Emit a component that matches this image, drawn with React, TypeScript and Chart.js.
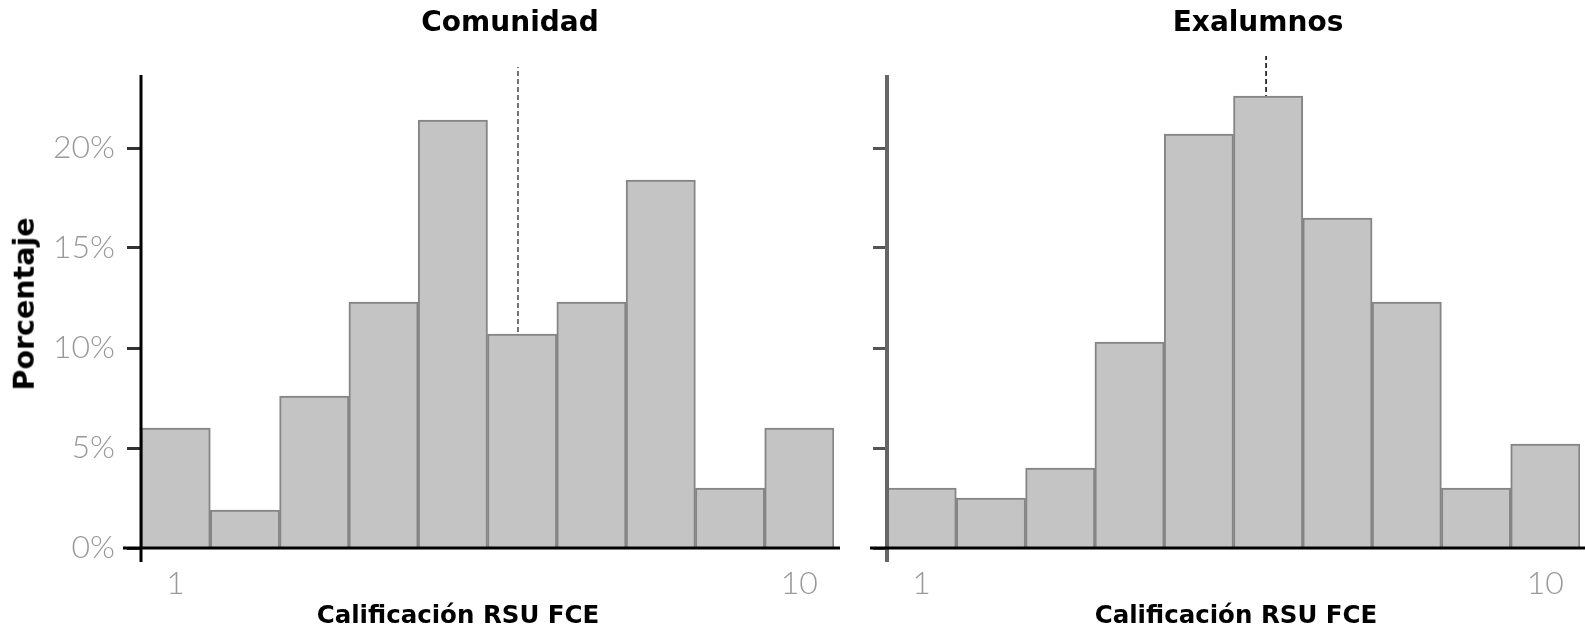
import { useEffect, useRef } from "react";
import { Chart, registerables } from "chart.js";

Chart.register(...registerables);

// histogram bins (score 1..10) and share of answers per bin, in %
const bins = [1, 2, 3, 4, 5, 6, 7, 8, 9, 10];
const comunidadPct = [6.0, 1.9, 7.6, 12.3, 21.4, 10.7, 12.3, 18.4, 3.0, 6.0];
const exalumnosPct = [3.0, 2.5, 4.0, 10.3, 20.7, 22.6, 16.5, 12.3, 3.0, 5.2];

// mean marker (dashed line) x position and the height it reaches
const comunidadMean = 5.94;
const comunidadMeanTop = 24.05;
const exalumnosMean = 5.97;
const exalumnosMeanTop = 24.6;

const yTicks = [0, 5, 10, 15, 20];
const xTicks = [1, 10];

const TICK_FONT = { family: "Lato, 'Open Sans', sans-serif", size: 32, weight: 300 };
const BOLD = "'DejaVu Sans', sans-serif";

const axisLines = {
  id: "axisLines",
  afterDatasetsDraw(chart: any, _args: any, opts: any) {
    const { ctx, chartArea: a } = chart;
    ctx.save();
    ctx.strokeStyle = opts.yColor;
    ctx.lineWidth = opts.yWidth;
    ctx.beginPath();
    ctx.moveTo(a.left, a.top);
    ctx.lineTo(a.left, a.bottom + 14);
    ctx.stroke();
    ctx.strokeStyle = "#000";
    ctx.lineWidth = 3;
    ctx.beginPath();
    ctx.moveTo(a.left - opts.extLeft, a.bottom);
    ctx.lineTo(a.right + opts.extRight, a.bottom);
    ctx.stroke();
    ctx.restore();
  },
};

interface PanelProps {
  values: number[];
  mean: number;
  meanTop: number;
  meanColor: string;
  width: number;
  yAxisWidth: number;
  padRight: number;
  showYLabels: boolean;
  yColor: string;
  yWidth: number;
  tickColor: string;
  extLeft: number;
  extRight: number;
}

const HistPanel = (p: PanelProps) => {
  const canvasRef = useRef<HTMLCanvasElement>(null);

  useEffect(() => {
    if (!canvasRef.current) return;
    const chart = new Chart(canvasRef.current, {
      type: "bar",
      data: {
        datasets: [
          {
            type: "bar",
            data: bins.map((b, i) => ({ x: b, y: p.values[i] })),
            backgroundColor: "#c4c4c4",
            borderColor: "#858585",
            borderWidth: 2,
            barPercentage: 1,
            categoryPercentage: 1,
            order: 0,
          },
          {
            type: "line",
            data: [
              { x: p.mean, y: 0 },
              { x: p.mean, y: p.meanTop },
            ],
            borderColor: p.meanColor,
            borderWidth: 1.5,
            borderDash: [5, 3],
            pointRadius: 0,
            clip: false,
            order: 1,
          } as any,
        ],
      },
      options: {
        responsive: false,
        animation: false,
        layout: { padding: { top: 75, right: p.padRight, left: 0, bottom: 0 } },
        plugins: {
          legend: { display: false },
          tooltip: { enabled: false },
          axisLines: {
            yColor: p.yColor,
            yWidth: p.yWidth,
            extLeft: p.extLeft,
            extRight: p.extRight,
          },
        } as any,
        scales: {
          x: {
            type: "linear",
            min: 0.5,
            max: 10.5,
            offset: false,
            afterBuildTicks: (s: any) => {
              s.ticks = xTicks.map((v) => ({ value: v }));
            },
            grid: { display: false, drawTicks: false, offset: false },
            border: { display: false },
            ticks: {
              color: "#999",
              font: TICK_FONT,
              padding: 16,
              maxRotation: 0,
              autoSkip: false,
            },
            afterFit: (s: any) => {
              s.height = 82;
            },
          },
          y: {
            min: 0,
            max: 23.65,
            afterBuildTicks: (s: any) => {
              s.ticks = yTicks.map((v) => ({ value: v }));
            },
            grid: {
              drawOnChartArea: false,
              drawTicks: true,
              tickLength: 14,
              tickColor: p.tickColor,
              tickWidth: 3,
            },
            border: { display: false },
            ticks: {
              display: p.showYLabels,
              color: "#999",
              font: TICK_FONT,
              padding: 12,
              callback: (v: any) => `${v}%`,
            },
            afterFit: (s: any) => {
              s.width = p.yAxisWidth;
            },
          },
        },
      },
      plugins: [axisLines],
    });
    return () => chart.destroy();
  }, []);

  return <canvas ref={canvasRef} width={p.width} height={630} />;
};

const textStyle = (x: number, y: number, size: number, rotate = 0): React.CSSProperties => ({
  position: "absolute",
  left: x,
  top: y,
  transform: `translate(-50%, -50%) rotate(${rotate}deg)`,
  fontFamily: BOLD,
  fontWeight: "bold",
  fontSize: size,
  lineHeight: 1,
  whiteSpace: "nowrap",
  color: "#000",
});

export default function App() {
  return (
    <div
      style={{
        position: "absolute",
        left: 0,
        top: 0,
        width: 1585,
        height: 630,
        background: "#fff",
        overflow: "hidden",
      }}
    >
      <div style={{ position: "absolute", left: 0, top: 0 }}>
        <HistPanel
          values={comunidadPct}
          mean={comunidadMean}
          meanTop={comunidadMeanTop}
          meanColor="#444"
          width={862}
          yAxisWidth={141}
          padRight={28}
          showYLabels={true}
          yColor="#000"
          yWidth={3}
          tickColor="#333"
          extLeft={18}
          extRight={6}
        />
      </div>
      <div style={{ position: "absolute", left: 862, top: 0 }}>
        <HistPanel
          values={exalumnosPct}
          mean={exalumnosMean}
          meanTop={exalumnosMeanTop}
          meanColor="#000"
          width={723}
          yAxisWidth={25}
          padRight={5}
          showYLabels={false}
          yColor="#666"
          yWidth={4}
          tickColor="#555"
          extLeft={17}
          extRight={5}
        />
      </div>
      <div style={textStyle(510, 22, 28)}>Comunidad</div>
      <div style={textStyle(1258, 22, 28)}>Exalumnos</div>
      <div style={textStyle(25, 304, 28.5, -90)}>Porcentaje</div>
      <div style={textStyle(458, 615, 24.5)}>Calificación RSU FCE</div>
      <div style={textStyle(1236, 615, 24.5)}>Calificación RSU FCE</div>
    </div>
  );
}
